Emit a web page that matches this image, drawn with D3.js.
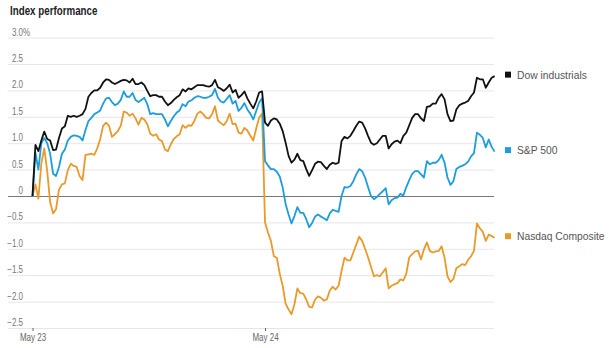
<!DOCTYPE html>
<html>
<head>
<meta charset="utf-8">
<script src="https://cdn.jsdelivr.net/npm/d3@7/dist/d3.min.js"></script>
<style>
  html, body { margin: 0; padding: 0; background: #fff; }
  svg { display: block; }
</style>
</head>
<body>
<svg id="chart" width="616" height="348"></svg>
<script>
// Intraday performance, 5-minute steps over two sessions (index 0 = May 23 open, 79 = May 24 open)
const dayTicks = [0, 79];
const dayLabels = ["May 23", "May 24"];
const yTicks = [3.0, 2.5, 2.0, 1.5, 1.0, 0.5, 0, -0.5, -1.0, -1.5, -2.0, -2.5];
const seriesNames = ["Dow industrials", "S&P 500", "Nasdaq Composite"];

const dow = [
  0, 0.97, 0.85, 1.05, 1.22, 1.08, 1.05, 0.87, 0.88, 1.10,
  1.28, 1.32, 1.52, 1.50, 1.52, 1.50, 1.52, 1.55, 1.65, 1.88,
  1.95, 2.00, 2.00, 2.05, 2.15, 2.21, 2.20, 2.15, 2.12, 2.15,
  2.18, 2.20, 2.19, 2.15, 2.22, 2.12, 2.12, 2.15, 2.10, 1.99,
  1.89, 1.91, 1.91, 1.88, 1.88, 1.79, 1.72, 1.76, 1.82, 1.87,
  1.91, 2.02, 1.98, 2.04, 2.02, 2.06, 2.10, 2.10, 2.10, 2.08,
  2.07, 2.10, 2.20, 2.06, 2.03, 1.99, 2.04, 2.11, 1.96, 2.01,
  1.86, 1.91, 1.98, 1.85, 1.75, 1.66, 1.79, 1.96, 1.98,
  1.39, 1.33, 1.43, 1.47, 1.45, 1.37, 1.23, 1.01, 0.76, 0.63,
  0.69, 0.80, 0.68, 0.66, 0.51, 0.38, 0.49, 0.61, 0.65, 0.64,
  0.57, 0.51, 0.59, 0.63, 0.61, 0.63, 1.04, 1.12, 1.09, 1.14,
  1.23, 1.33, 1.41, 1.39, 1.28, 1.14, 1.01, 0.97, 1.00, 1.07,
  1.14, 1.14, 0.90, 0.98, 1.03, 1.05, 1.00, 1.14, 1.20, 1.34,
  1.48, 1.55, 1.55, 1.47, 1.42, 1.69, 1.70, 1.75, 1.75, 1.86,
  1.93, 1.83, 1.55, 1.42, 1.43, 1.64, 1.72, 1.75, 1.77, 1.80,
  1.89, 1.96, 2.24, 2.21, 2.21, 2.05, 2.15, 2.24, 2.27
];

const sp500 = [
  0, 0.82, 0.50, 1.00, 1.10, 1.00, 0.80, 0.42, 0.38, 0.55,
  0.80, 0.88, 1.05, 1.12, 1.15, 1.14, 1.12, 1.05, 1.25, 1.42,
  1.48, 1.55, 1.58, 1.62, 1.75, 1.85, 1.86, 1.78, 1.72, 1.75,
  1.82, 1.98, 1.88, 1.88, 1.95, 1.82, 1.78, 1.82, 1.86, 1.74,
  1.55, 1.57, 1.55, 1.55, 1.55, 1.45, 1.32, 1.42, 1.51, 1.58,
  1.62, 1.74, 1.70, 1.79, 1.81, 1.86, 1.89, 1.88, 1.86, 1.86,
  1.88, 1.91, 2.03, 1.86, 1.79, 1.77, 1.84, 1.91, 1.75, 1.80,
  1.61, 1.67, 1.76, 1.64, 1.56, 1.45, 1.61, 1.77, 1.85,
  0.66, 0.58, 0.51, 0.51, 0.46, 0.37, 0.16, -0.15, -0.35, -0.52,
  -0.38, -0.21, -0.32, -0.32, -0.44, -0.59, -0.51, -0.39, -0.35, -0.39,
  -0.42, -0.46, -0.33, -0.26, -0.28, -0.30, 0.00, 0.17, 0.16, 0.19,
  0.28, 0.41, 0.51, 0.47, 0.35, 0.17, 0.00, -0.06, -0.02, 0.04,
  0.09, 0.15, -0.16, -0.08, -0.04, -0.03, 0.04, 0.01, 0.17, 0.30,
  0.42, 0.47, 0.47, 0.41, 0.35, 0.66, 0.60, 0.63, 0.63, 0.68,
  0.78, 0.63, 0.35, 0.21, 0.28, 0.51, 0.55, 0.57, 0.60, 0.65,
  0.75, 0.81, 1.20, 1.16, 1.10, 0.92, 1.07, 0.93, 0.84
];

const nasdaq = [
  0, 0.22, -0.05, 0.62, 0.90, 0.47, -0.12, -0.33, -0.25, 0.12,
  0.22, 0.24, 0.49, 0.61, 0.57, 0.55, 0.38, 0.30, 0.78, 0.79,
  0.80, 0.78, 0.90, 1.08, 1.33, 1.39, 1.33, 1.12, 1.17, 1.23,
  1.33, 1.60, 1.58, 1.52, 1.56, 1.47, 1.35, 1.48, 1.45, 1.36,
  1.18, 1.14, 1.17, 1.07, 1.04, 0.88, 0.85, 0.98, 1.08, 1.13,
  1.17, 1.34, 1.29, 1.34, 1.33, 1.42, 1.56, 1.60, 1.55, 1.48,
  1.47, 1.55, 1.70, 1.43, 1.38, 1.34, 1.42, 1.56, 1.36, 1.37,
  1.20, 1.18, 1.29, 1.24, 1.14, 1.05, 1.28, 1.48, 1.56,
  -0.50, -0.69, -0.85, -1.14, -1.17, -1.47, -1.70, -2.04, -2.15, -2.24,
  -2.05, -1.75, -1.84, -1.85, -1.96, -2.10, -2.11, -1.96, -1.90, -1.93,
  -1.98, -1.96, -1.79, -1.72, -1.77, -1.70, -1.42, -1.17, -1.22, -1.22,
  -1.07, -0.92, -0.77, -0.85, -1.00, -1.16, -1.34, -1.52, -1.50, -1.52,
  -1.45, -1.37, -1.75, -1.70, -1.67, -1.65, -1.58, -1.60, -1.47, -1.16,
  -1.10, -1.05, -1.04, -1.20, -1.01, -0.88, -1.04, -1.07, -1.05, -1.04,
  -0.95, -1.17, -1.52, -1.63, -1.57, -1.37, -1.33, -1.29, -1.31, -1.21,
  -1.14, -1.04, -0.52, -0.61, -0.68, -0.85, -0.73, -0.76, -0.79
];

const colors = ["#111111", "#1b9de0", "#ea9a2a"];
const seriesValues = [dow, sp500, nasdaq];

const FONT = "'Liberation Sans', Arial, sans-serif";
const NARROW = 0.8;   // horizontal squeeze for the condensed labels

const svg = d3.select("#chart");
const gridLeft = 8, gridRight = 494;

const x = d3.scaleLinear().domain([0, dow.length - 1]).range([32.5, 494.6]);
const y = d3.scaleLinear().domain([-2.5, 3.0]).range([328, 37.6]);

// Title (condensed bold)
svg.append("text")
  .attr("x", 10 / 0.815).attr("y", 15)
  .attr("transform", "scale(0.815,1)")
  .attr("font-family", FONT)
  .attr("font-weight", "bold")
  .attr("font-size", 12)
  .attr("fill", "#222")
  .text("Index performance");

// Horizontal gridlines + value labels
const yAxis = d3.axisLeft(y)
  .tickValues(yTicks)
  .tickSize(-(gridRight - gridLeft))
  .tickFormat(d => d === 0 ? "0" : d3.format(".1f")(d));

const gy = svg.append("g")
  .attr("transform", `translate(${gridLeft},0)`)
  .call(yAxis);
gy.select(".domain").remove();
gy.selectAll(".tick line")
  .attr("stroke", d => d === 0 ? "#777" : "#e6e6e6")
  .attr("stroke-width", 1);
gy.selectAll(".tick text")
  .attr("x", 15 / NARROW)
  .attr("dy", -2.5)
  .attr("transform", `scale(${NARROW},1)`)
  .attr("text-anchor", "end")
  .attr("font-family", FONT)
  .attr("font-size", 10)
  .attr("fill", "#777");
// percent sign on the top label
gy.selectAll(".tick")
  .filter(d => d === yTicks[0])
  .append("text")
  .attr("x", 15 / NARROW).attr("dy", -2.5)
  .attr("transform", `scale(${NARROW},1)`)
  .attr("text-anchor", "start")
  .attr("font-family", FONT)
  .attr("font-size", 10)
  .attr("fill", "#777")
  .text("%");

// Day axis
const xAxis = d3.axisBottom(x)
  .tickValues(dayTicks)
  .tickSize(3)
  .tickPadding(3)
  .tickFormat((d, i) => dayLabels[i]);
const gx = svg.append("g")
  .attr("transform", "translate(0,328)")
  .call(xAxis);
gx.select(".domain").remove();
gx.selectAll(".tick line").attr("stroke", "#666");
gx.selectAll(".tick text")
  .attr("transform", `scale(${NARROW},1)`)
  .attr("font-family", FONT)
  .attr("font-size", 10)
  .attr("fill", "#666");

// Series lines (Nasdaq underneath, Dow on top)
const line = d3.line()
  .x((d, i) => x(i))
  .y(d => y(d));

[2, 1, 0].forEach(k => {
  svg.append("path")
    .datum(seriesValues[k])
    .attr("fill", "none")
    .attr("stroke", colors[k])
    .attr("stroke-width", 1.8)
    .attr("stroke-linejoin", "round")
    .attr("d", line);
});

// End-of-line legend
seriesValues.forEach((vals, k) => {
  const cy = y(vals[vals.length - 1]) - 1.5;
  svg.append("rect")
    .attr("x", 505).attr("y", cy - 3)
    .attr("width", 6).attr("height", 6)
    .attr("fill", colors[k]);
  svg.append("text")
    .attr("x", 517).attr("y", cy + 4)
    .attr("font-family", FONT)
    .attr("font-size", 10.3)
    .attr("fill", "#555")
    .text(seriesNames[k]);
});
</script>
</body>
</html>
